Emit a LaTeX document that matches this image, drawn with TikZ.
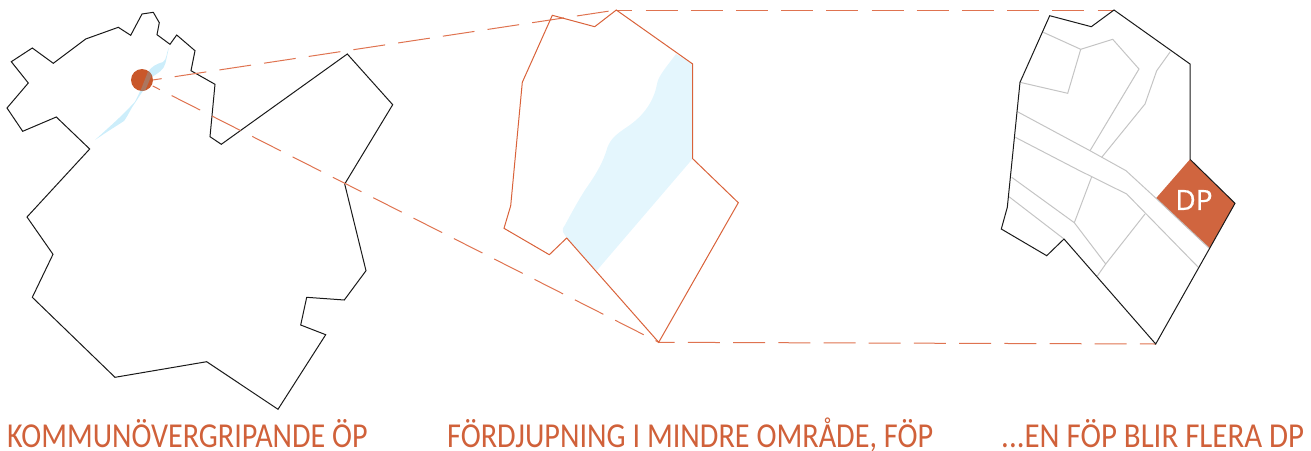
\documentclass[tikz,border=0pt]{standalone}
\usepackage{fontspec}
\setmainfont{Carlito}
\newfontfamily\dpfont[FakeBold=0.5]{Open Sans}
\definecolor{rust}{HTML}{D9623A}
\definecolor{captioncol}{HTML}{D0613A}
\definecolor{dashcol}{HTML}{DF7350}
\definecolor{dotcol}{HTML}{C9572A}
\definecolor{dpfill}{HTML}{D0653F}
\definecolor{lake}{HTML}{CDEEFB}
\definecolor{lakepale}{HTML}{E4F6FD}
\definecolor{overlap}{HTML}{AC7660}
\definecolor{parcel}{HTML}{C4C4C4}
\tikzset{
  x=1pt,y=-1pt,
  blackline/.style={draw=black!90,line width=1pt,line join=miter},
  rustline/.style={draw=rust,line width=1pt,line join=miter},
  parcelline/.style={draw=parcel,line width=1pt},
  dashup/.style={draw=dashcol,line width=1pt,dash pattern=on 32pt off 13.2pt,dash phase=#1},
  caption/.style={text=captioncol,font=\fontsize{35}{35}\selectfont,inner sep=0pt,anchor=base west},
}
\begin{document}
\begin{tikzpicture}
\useasboundingbox (0,0) rectangle (1311,450);
% lake on the municipal map
\fill[lake] (169,47.3) .. controls (166,54) and (167,59) .. (163,62) .. controls (156,64) and (151,67) .. (148,72) .. controls (144,82) and (140,92) .. (135,101.7) .. controls (120,118) and (108,128) .. (95,140) .. controls (108,131) and (118,125) .. (124,121) .. controls (129,114) and (131,108) .. (135,103) .. controls (142,92) and (148,84) .. (152,77) .. controls (158,73) and (164,70) .. (165.5,63) -- cycle;
% dot
\node[circle,fill=dotcol,minimum size=22pt,inner sep=0pt] (dot) at (142,80) {};
\begin{scope}
\clip (142,80) circle (11);
\fill[overlap] (149,69) -- (153,72) -- (145,91) -- (140,92) -- cycle;
\end{scope}
% municipal outline
\draw[blackline] (142,14) -- (153.3,12.3) -- (159.3,22.7) -- (157,34.7) -- (170,44.3) -- (176.7,35) -- (195,50.7) -- (191,70.7) -- (215,84.3) -- (210,136.7) -- (221.3,144.3) -- (347.3,54) -- (392.7,104.7) -- (344.7,184) -- (366,270.7) -- (344.3,300) -- (306.7,297.3) -- (300.7,325) -- (325.7,334.7) -- (278,409.3) -- (206.7,361.7) -- (115,377.3) -- (32.3,297.3) -- (53,254.3) -- (27,217) -- (89.7,149) -- (56.3,117) -- (22.7,131.3) -- (7,108) -- (28.3,83) -- (11.3,61.7) -- (32.3,48) -- (53.3,63.3) -- (85.7,39) -- (118.3,27.3) -- (130.7,35.3) -- cycle;
% middle pale lake
\fill[lakepale] (676,54) -- (692.7,64) -- (692.7,158.7) -- (596.7,270.7) -- (566.7,238) -- (563,232) .. controls (562,229) and (563,228) .. (565,225) .. controls (572,212) and (578,201) .. (585,190) .. controls (592,180) and (601,167) .. (606,152) .. controls (609,140) and (615,135) .. (627,127) .. controls (645,115) and (654,100) .. (657,84) .. controls (658,76) and (668,65) .. (676,54) -- cycle;
% coordinates
\coordinate (midtop) at (616.3,10);
\coordinate (midbot) at (658.7,342.3);
\coordinate (righttop) at (1114,10);
\coordinate (rightbot) at (1155.7,344);
\coordinate (dotU) at (152.7,80);
\coordinate (dotL) at (152.7,86);
% dashes
\draw[dashup=23pt] (dotU) -- (midtop);
\draw[dashup=24pt] (dotL) -- (midbot);
\draw[dashup=16pt] (midtop) -- (righttop);
\draw[dashup=16pt] (midbot) -- (rightbot);
% middle outline
\draw[rustline] (552.3,15.3) -- (594.7,26.7) -- (midtop) -- (692.7,64) -- (692.7,158.7) -- (738.3,202.7) -- (midbot) -- (566.7,238) -- (549.3,254.7) -- (504,228.3) -- (510.7,205.7) -- (522.3,82.3) -- cycle;
% DP
\fill[dpfill] (1190,159.3) -- (1235,203.3) -- (1209.3,248.3) -- (1156,198.3) -- cycle;
% parcels
\draw[parcelline] (1043.3,32.3) -- (1080.7,49.3) -- (1067.7,93.3) -- (1020,82.3);
\draw[parcelline] (1080.7,49.3) -- (1112.7,39.3) -- (1139,69) -- (1090,150.7);
\draw[parcelline] (1170.3,51.7) -- (1156.7,70.7) -- (1145,104) -- (1101.7,157.3);
\draw[parcelline] (1018,112) -- (1090,150.7) -- (1126,170.7) -- (1156,198.3) -- (1209.3,248.3);
\draw[parcelline] (1015.3,137.3) -- (1078.3,170) -- (1126.7,194) -- (1198.3,267.3);
\draw[parcelline] (1011.7,177.3) -- (1074.3,222.7) -- (1105.7,264) -- (1097.3,276);
\draw[parcelline] (1091.7,176.7) -- (1074.3,222.7);
\draw[parcelline] (1145,214) -- (1105.7,264);
\draw[parcelline] (1009,196.7) -- (1064,239);
% right outline
\draw[blackline] (1049.7,15.7) -- (1091.3,26.7) -- (righttop) -- (1190,64) -- (1190,159.3) -- (1235,203.3) -- (rightbot) -- (1064,239) -- (1046.7,255.7) -- (1001.3,229) -- (1007.3,207.3) -- (1020,82.3) -- cycle;
\node[text=white,font=\dpfont\fontsize{28}{28}\selectfont,inner sep=0pt] (dplabel) at (1194,200) {DP};
% captions
\node[caption] (cap1) at (7,447) {\scalebox{0.86}[1]{KOMMUNÖVERGRIPANDE ÖP}};
\node[caption] (cap2) at (447,447) {\scalebox{0.863}[1]{FÖRDJUPNING I MINDRE OMRÅDE, FÖP}};
\node[caption] (cap3) at (1001,447) {\scalebox{0.883}[1]{...EN FÖP BLIR FLERA DP}};
\end{tikzpicture}
\end{document}
